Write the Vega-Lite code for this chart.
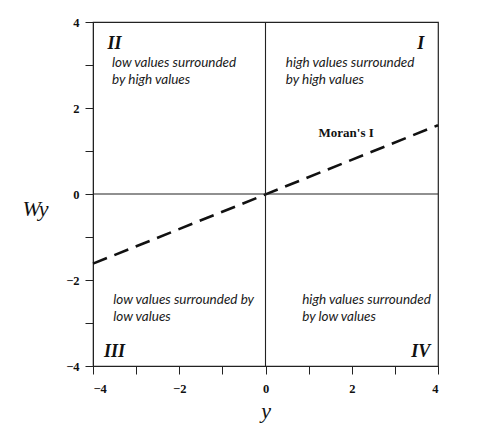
{
  "$schema": "https://vega.github.io/schema/vega-lite/v6.json",
  "width": 345,
  "height": 344,
  "autosize": {"type": "none"},
  "padding": {"left": 93, "top": 22, "right": 42, "bottom": 61},
  "background": "white",
  "config": {
    "view": {"stroke": "#222", "strokeWidth": 1.2},
    "axis": {
      "grid": false,
      "domainColor": "#222",
      "tickColor": "#222",
      "tickSize": 8,
      "labelFont": "Liberation Serif",
      "labelFontWeight": "bold",
      "labelFontSize": 12.5,
      "labelColor": "#111",
      "titleFont": "Liberation Serif",
      "titleFontStyle": "italic",
      "titleFontWeight": "normal",
      "titleFontSize": 22,
      "titleColor": "#111"
    }
  },
  "datasets": {
    "line": [{"y": -4, "wy": -1.62}, {"y": 4, "wy": 1.6}],
    "zero": [{"v": 0}],
    "roman": [
      {"y": -3.5, "wy": 3.5, "t": "II", "a": "left"},
      {"y": 3.6, "wy": 3.5, "t": "I", "a": "right"},
      {"y": -3.5, "wy": -3.68, "t": "III", "a": "left"},
      {"y": 3.6, "wy": -3.68, "t": "IV", "a": "right"}
    ],
    "desc": [
      {"y": -3.56, "wy": 3.05, "t": "low values surrounded"},
      {"y": -3.56, "wy": 2.66, "t": "by high values"},
      {"y": 0.47, "wy": 3.05, "t": "high values surrounded"},
      {"y": 0.47, "wy": 2.66, "t": "by high values"},
      {"y": -3.53, "wy": -2.47, "t": "low values surrounded by"},
      {"y": -3.53, "wy": -2.85, "t": "low values"},
      {"y": 0.85, "wy": -2.47, "t": "high values surrounded"},
      {"y": 0.85, "wy": -2.85, "t": "by low values"}
    ],
    "moran": [{"y": 1.87, "wy": 1.43, "t": "Moran's I"}]
  },
  "layer": [
    {
      "data": {"name": "line"},
      "mark": {"type": "line", "color": "#111", "strokeWidth": 2.6, "strokeDash": [15, 8]},
      "encoding": {
        "x": {
          "field": "y", "type": "quantitative",
          "scale": {"domain": [-4, 4], "nice": false, "zero": false},
          "axis": {
            "values": [-4, -3, -2, -1, 0, 1, 2, 3, 4],
            "labelExpr": "datum.value % 2 === 0 ? datum.label : ''",
            "labelPadding": 8,
            "title": "y",
            "titlePadding": 6
          }
        },
        "y": {
          "field": "wy", "type": "quantitative",
          "scale": {"domain": [-4, 4], "nice": false, "zero": false},
          "axis": {
            "values": [-4, -3, -2, -1, 0, 1, 2, 3, 4],
            "labelExpr": "datum.value % 2 === 0 ? datum.label : ''",
            "labelPadding": 6,
            "title": "Wy",
            "titleAngle": 0,
            "titleAlign": "center",
            "titleBaseline": "middle",
            "titleX": -58,
            "titleY": 186
          }
        }
      }
    },
    {
      "data": {"name": "zero"},
      "mark": {"type": "rule", "color": "#222", "strokeWidth": 1.1},
      "encoding": {"x": {"field": "v", "type": "quantitative"}}
    },
    {
      "data": {"name": "zero"},
      "mark": {"type": "rule", "color": "#222", "strokeWidth": 1.1},
      "encoding": {"y": {"field": "v", "type": "quantitative"}}
    },
    {
      "data": {"name": "roman"},
      "mark": {"type": "text", "font": "Liberation Serif", "fontStyle": "italic", "fontWeight": "bold", "fontSize": 18, "color": "#111", "baseline": "middle"},
      "encoding": {
        "x": {"field": "y", "type": "quantitative"},
        "y": {"field": "wy", "type": "quantitative"},
        "text": {"field": "t"},
        "align": {"field": "a", "type": "nominal", "scale": null}
      }
    },
    {
      "data": {"name": "desc"},
      "mark": {"type": "text", "font": "Lato", "fontStyle": "italic", "fontSize": 13.5, "color": "#1a1a1a", "align": "left", "baseline": "middle"},
      "encoding": {
        "x": {"field": "y", "type": "quantitative"},
        "y": {"field": "wy", "type": "quantitative"},
        "text": {"field": "t"}
      }
    },
    {
      "data": {"name": "moran"},
      "mark": {"type": "text", "font": "Liberation Serif", "fontWeight": "bold", "fontSize": 13, "color": "#111", "align": "center", "baseline": "middle"},
      "encoding": {
        "x": {"field": "y", "type": "quantitative"},
        "y": {"field": "wy", "type": "quantitative"},
        "text": {"field": "t"}
      }
    }
  ]
}
